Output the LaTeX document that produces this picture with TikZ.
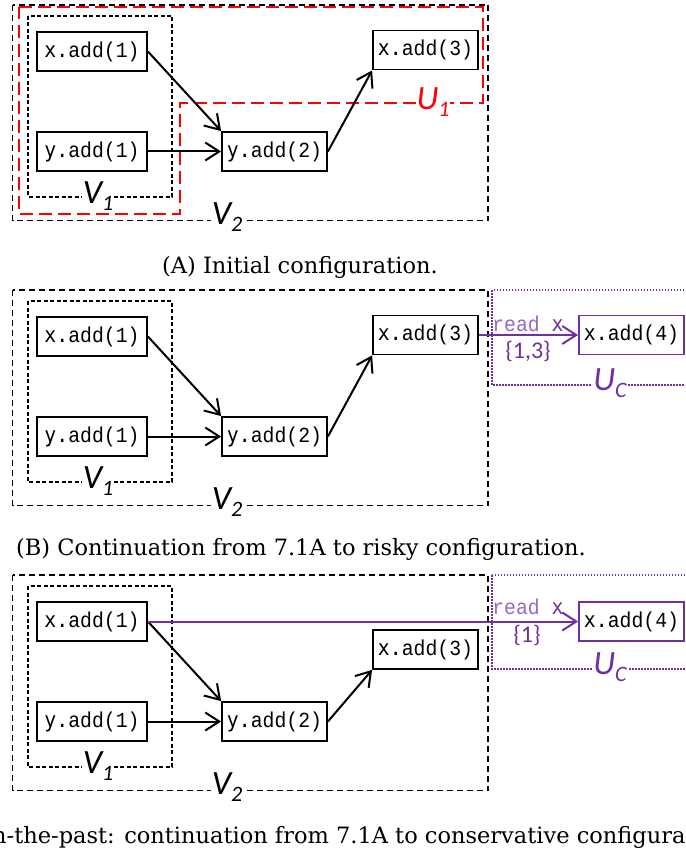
\documentclass[tikz,border=0pt]{standalone}
\usepackage{fontspec}
\setmainfont{DejaVu Serif}
\newfontfamily\monoA[FakeStretch=0.92]{Liberation Mono}
\newfontfamily\monoB[FakeStretch=0.92]{DejaVu Sans Mono}
\newfontfamily\labfont{Carlito}
\usetikzlibrary{arrows.meta}
\definecolor{upurple}{HTML}{7030A0}
\definecolor{lpurple}{HTML}{9966CC}
\definecolor{ured}{HTML}{FF0000}
\newcommand{\myop}[2]{{\monoB #1}{\monoA #2}}
\newcommand{\glab}[2]{{\labfont\itshape\fontsize{34}{34}\selectfont #1}\raisebox{-7pt}{\labfont\itshape\fontsize{22}{22}\selectfont #2}}
\tikzset{
  x=1pt, y=-1pt,
  opbox/.style={draw=black, line width=1.8pt, inner sep=0pt, minimum height=39pt, font=\fontsize{21.5}{22}\selectfont, fill=white},
  wide/.style={minimum width=110pt},
  narrow/.style={minimum width=105pt},
  pbox/.style={opbox, narrow, draw=upurple},
  arr/.style={line width=2pt, -{Straight Barb[length=14pt,width=18pt,line width=2pt]}},
  parr/.style={draw=upurple, line width=2pt, -{Straight Barb[length=14pt,width=18pt,line width=2pt,color=upurple]}},
  vtwo/.style={draw=black, line width=1.5pt, dash pattern=on 6pt off 4pt},
  vone/.style={draw=black, line width=1.2pt, dash pattern=on 4pt off 2.5pt},
  ured/.style={draw=ured, line width=1.9pt, dash pattern=on 13pt off 6pt},
  udot/.style={draw=upurple, line width=1.6pt, dash pattern=on 1.5pt off 1.5pt},
  glabel/.style={fill=white, inner sep=1pt},
  caption/.style={font=\fontsize{22.5}{24}\selectfont, inner sep=0pt},
  rlab/.style={font=\fontsize{21.5}{22}\selectfont, inner sep=0pt},
  setlab/.style={font=\labfont\fontsize{24}{25}\selectfont, text=upurple, inner sep=0pt}
}
\begin{document}
\begin{tikzpicture}
\useasboundingbox (0,0) rectangle (685,853);
\clip (0,0) rectangle (685,853);

% ---------- Panel A ----------
\draw[vtwo] (12.5,5) rectangle (488,220.5);
\draw[vone] (28,16) rectangle (172,197);
\draw[ured] (19,7) -- (483,7) -- (483,103) -- (180,103) -- (180,214) -- (19,214) -- cycle;
\node[opbox, wide] (xa1) at (92,51.5) {\myop{x.}{add(1)}};
\node[opbox, wide] (ya1) at (92,151.5) {\myop{y.}{add(1)}};
\node[opbox, narrow] (ya2) at (274.5,151.5) {\myop{y.}{add(2)}};
\node[opbox, narrow] (xa3) at (425.5,50) {\myop{x.}{add(3)}};
\draw[arr] (xa1.east) -- (ya2.north west);
\draw[arr] (ya1.east) -- (ya2.west);
\draw[arr] (ya2.east) -- (xa3.south west);
\node[glabel] (v1a) at (98,196) {\glab{V}{1}};
\node[glabel] (v2a) at (227,217) {\glab{V}{2}};
\node[glabel, text=ured] (u1a) at (433,102) {\glab{U}{1}};
\node[caption] (capa) at (300,267) {(A) Initial configuration.};

% ---------- Panel B ----------
\draw[vtwo] (12.5,290) rectangle (488,505.5);
\draw[vone] (28,301) rectangle (172,482);
\draw[udot] (492,290) rectangle (700,385);
\node[opbox, wide] (xb1) at (92,336.5) {\myop{x.}{add(1)}};
\node[opbox, wide] (yb1) at (92,436.5) {\myop{y.}{add(1)}};
\node[opbox, narrow] (yb2) at (274.5,436.5) {\myop{y.}{add(2)}};
\node[opbox, narrow] (xb3) at (425.5,335) {\myop{x.}{add(3)}};
\node[pbox] (xb4) at (631.5,335) {\myop{x.}{add(4)}};
\draw[arr] (xb1.east) -- (yb2.north west);
\draw[arr] (yb1.east) -- (yb2.west);
\draw[arr] (yb2.east) -- (xb3.south west);
\draw[parr] (xb3.east) -- (xb4.west);
\node[rlab] (rdb) at (528,324) {{\monoA\color{lpurple}read }{\monoB\color{upurple}x}};
\node[setlab] (setb) at (528,351) {\{1,3\}};
\node[glabel] (v1b) at (98,481) {\glab{V}{1}};
\node[glabel] (v2b) at (227,502) {\glab{V}{2}};
\node[glabel, text=upurple] (ucb) at (610,383) {\glab{U}{C}};
\node[caption] (capb) at (301,549) {(B) Continuation from 7.1A to risky configuration.};

% ---------- Panel C ----------
\draw[vtwo] (12.5,575) rectangle (488,790.5);
\draw[vone] (28,586) rectangle (172,767);
\draw[udot] (492,575) rectangle (700,669);
\node[opbox, wide] (xc1) at (92,621.5) {\myop{x.}{add(1)}};
\node[opbox, wide] (yc1) at (92,721.5) {\myop{y.}{add(1)}};
\node[opbox, narrow] (yc2) at (274.5,721.5) {\myop{y.}{add(2)}};
\node[opbox, narrow] (xc3) at (425.5,649.5) {\myop{x.}{add(3)}};
\node[pbox] (xc4) at (631.5,621.5) {\myop{x.}{add(4)}};
\draw[arr] (xc1.east) -- (yc2.north west);
\draw[arr] (yc1.east) -- (yc2.west);
\draw[arr] (yc2.east) -- (xc3.south west);
\draw[parr] (xc1.east) -- (xc4.west);
\node[rlab] (rdc) at (528,607) {{\monoA\color{lpurple}read }{\monoB\color{upurple}x}};
\node[setlab] (setc) at (527,635) {\{1\}};
\node[glabel] (v1c) at (98,766) {\glab{V}{1}};
\node[glabel] (v2c) at (227,787) {\glab{V}{2}};
\node[glabel, text=upurple] (ucc) at (610,667) {\glab{U}{C}};
\node[caption, anchor=west] (capc) at (-8,837) {n-the-past: continuation from 7.1A to conservative configuration.};
\end{tikzpicture}
\end{document}
